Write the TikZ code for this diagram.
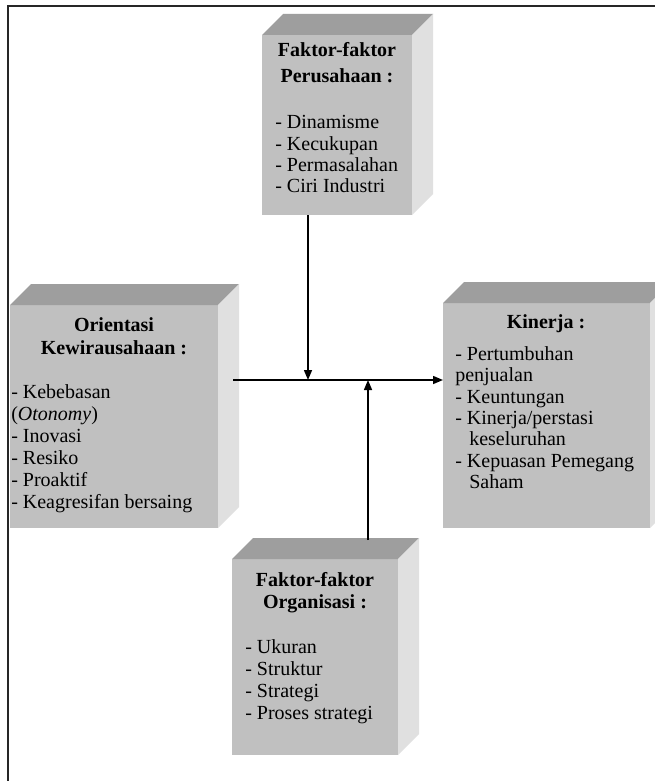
\documentclass[tikz,border=0pt]{standalone}
\usepackage{fontspec}
\setmainfont{Liberation Serif}
\usetikzlibrary{arrows.meta}
\definecolor{frontc}{RGB}{192,192,192}
\definecolor{topc}{RGB}{158,158,158}
\definecolor{sidec}{RGB}{224,224,224}
\tikzset{
  frontface/.style={fill=frontc, draw=none, inner sep=0pt, outer sep=0pt, anchor=north west},
  topface/.style={fill=topc, draw=none},
  sideface/.style={fill=sidec, draw=none},
  itemtxt/.style={anchor=base west, inner sep=0pt, font=\fontsize{15}{18}\selectfont},
  ttltxt/.style={anchor=base, inner sep=0pt, font=\fontsize{15}{18}\selectfont\bfseries},
  conn/.style={line width=1.1pt, -{Triangle[length=7.5pt,width=6pt]}},
}
\newcommand{\cubefaces}[1]{%
  \fill[topface] (#1.north west) -- ++(21,-21) -- ($(#1.north east)+(21,-21)$) -- (#1.north east) -- cycle;
  \fill[sideface] (#1.north east) -- ++(21,-21) -- ($(#1.south east)+(21,-21)$) -- (#1.south east) -- cycle;
}
\usetikzlibrary{calc}
\begin{document}
\begin{tikzpicture}[x=0.75pt,y=-0.75pt]
\useasboundingbox (0,0) rectangle (655,781);
\clip (0,0) rectangle (655,781);
\fill[white] (0,0) rectangle (655,781);
% frame
\draw[line width=1.3pt, black!85] (8,790) -- (8,6) -- (660,6);
% boxes
\node[frontface, minimum width=112.5pt, minimum height=135pt] (topb) at (262,35) {};
\cubefaces{topb}
\node[frontface, minimum width=156pt, minimum height=167.25pt] (leftb) at (10,305) {};
\cubefaces{leftb}
\node[frontface, minimum width=155.25pt, minimum height=168.75pt] (rightb) at (443,303) {};
\cubefaces{rightb}
\node[frontface, minimum width=124.5pt, minimum height=147pt] (botb) at (232,559) {};
\cubefaces{botb}
% top box text
\node[ttltxt] (t1) at (337,57) {Faktor-faktor};
\node[ttltxt] (t2) at (337,83) {Perusahaan :};
\foreach \t [count=\i] in {- Dinamisme,- Kecukupan,- Permasalahan,- Ciri Industri}
  \node[itemtxt] (ti\i) at (275,{129+21.3*(\i-1)}) {\t};
% left box text
\node[ttltxt] (l1) at (114,331) {Orientasi};
\node[ttltxt] (l2) at (114,354) {Kewirausahaan :};
\foreach \t [count=\i] in {- Kebebasan,(\textit{Otonomy}),- Inovasi,- Resiko,- Proaktif,- Keagresifan bersaing}
  \node[itemtxt] (li\i) at (11,{398+22*(\i-1)}) {\t};
% right box text
\node[ttltxt] (r1) at (546,328) {Kinerja :};
\node[itemtxt] (ri1) at (455,360) {- Pertumbuhan};
\node[itemtxt] (ri2) at (455,381) {penjualan};
\node[itemtxt] (ri3) at (455,403) {- Keuntungan};
\node[itemtxt] (ri4) at (455,424) {- Kinerja/perstasi};
\node[itemtxt] (ri5) at (469,445) {keseluruhan};
\node[itemtxt] (ri6) at (455,467) {- Kepuasan Pemegang};
\node[itemtxt] (ri7) at (469,488) {Saham};
% bottom box text
\node[ttltxt] (b1) at (315,586) {Faktor-faktor};
\node[ttltxt] (b2) at (315,608) {Organisasi :};
\foreach \t [count=\i] in {- Ukuran,- Struktur,- Strategi,- Proses strategi}
  \node[itemtxt] (bi\i) at (245,{653+22.3*(\i-1)}) {\t};
% connectors
\coordinate (hs) at (233,380);
\coordinate (dnx) at (308,380);
\coordinate (upx) at (368,380);
\draw[conn] (hs) -- (hs -| rightb.west);
\draw[conn] (topb.south -| dnx) -- (dnx);
\draw[conn] ($(botb.north -| upx)+(0,-19)$) -- (upx);
\end{tikzpicture}
\end{document}
